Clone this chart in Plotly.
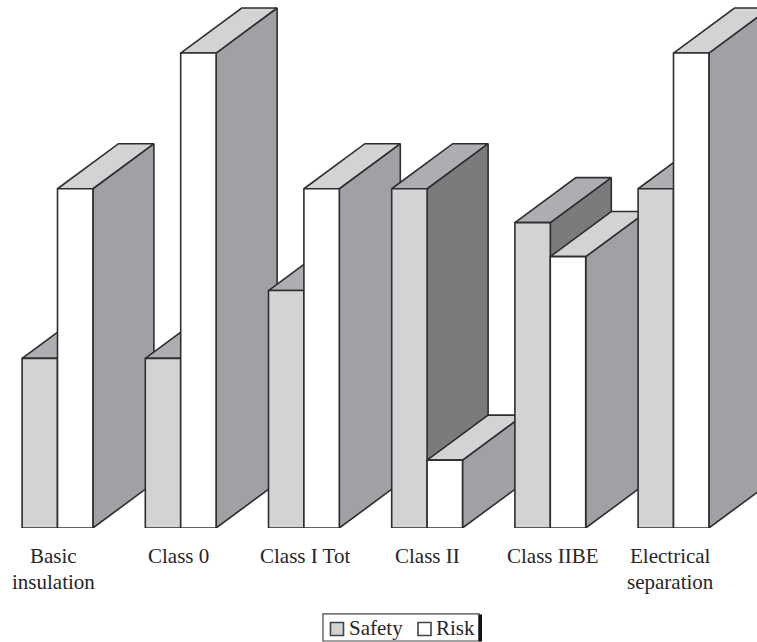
import plotly.graph_objects as go

categories = ["Basic<br>insulation", "Class 0", "Class I Tot", "Class II", "Class IIBE", "Electrical<br>separation"]
safety = [2.5, 2.5, 3.5, 5, 4.5, 5]
risk = [5, 7, 5, 1, 4, 7]
series_names = ["Safety", "Risk"]

W, H = 757, 642
BASE_PX = 527.6
PX_PER_X = 123.2
PX_PER_Y = 67.8
X0_PX = 57.5
BAR = 35.4 / PX_PER_X
DX = 61 / PX_PER_X
DY = 45 / PX_PER_Y
LINE = "#2e2e2e"
SAFETY_COL = ("#d2d3d5", "#adaeb1", "#7a7b7d")
RISK_COL = ("#ffffff", "#d2d3d5", "#a0a1a4")
TEXT = "#262626"
LABEL_SHIFT_PX = [-4, -2.5, 1, 0, 2.5, -3.5]
LABEL_LINE_Y_PX = [556, 582]


def poly(xs, ys, color):
    return go.Scatter(
        x=xs + xs[:1], y=ys + ys[:1], mode="lines", fill="toself", fillcolor=color,
        line=dict(color=LINE, width=1.6), showlegend=False, hoverinfo="skip",
    )


fig = go.Figure()


def add_bar(left, v, cols):
    r = left + BAR
    fig.add_trace(poly([r, r + DX, r + DX, r], [0, DY, v + DY, v], cols[2]))
    fig.add_trace(poly([left, r, r + DX, left + DX], [v, v, v + DY, v + DY], cols[1]))
    fig.add_trace(poly([left, r, r, left], [0, 0, v, v], cols[0]))


for i in range(len(categories)):
    add_bar(i - BAR, safety[i], SAFETY_COL)
    add_bar(float(i), risk[i], RISK_COL)


def px(x):
    return x / W


def py(y):
    return 1 - y / BASE_PX


def rect(x0, y0, x1, y1, fill, lw=1.2, col="#444444"):
    fig.add_shape(type="rect", xref="paper", yref="paper", x0=px(x0), x1=px(x1), y0=py(y0), y1=py(y1),
                  fillcolor=fill, line=dict(color=col, width=lw))


# category labels
for i, label in enumerate(categories):
    for line, y_px in zip(label.split("<br>"), LABEL_LINE_Y_PX):
        fig.add_annotation(text=line, x=i, xref="x", xshift=LABEL_SHIFT_PX[i], y=py(y_px), yref="paper",
                           xanchor="center", yanchor="middle", showarrow=False, font=dict(size=21))

# legend box
rect(323, 613.5, 479, 640.5, "white")
fig.add_shape(type="rect", xref="paper", yref="paper", x0=px(478.5), x1=px(482), y0=py(614), y1=py(641),
              fillcolor="#111111", line=dict(width=0))
rect(330.5, 622, 343.5, 635, SAFETY_COL[0], 1.6)
rect(418, 622, 431, 635, RISK_COL[0], 1.6)
for name, lx in zip(series_names, [349, 436]):
    fig.add_annotation(text=name, xref="paper", yref="paper", x=px(lx), y=py(628), xanchor="left",
                       yanchor="middle", showarrow=False, font=dict(size=21), xshift=-2)

fig.update_layout(
    width=W, height=H, autosize=False,
    margin=dict(l=0, r=0, t=0, b=H - BASE_PX),
    paper_bgcolor="white", plot_bgcolor="white",
    font=dict(family="Liberation Serif", size=21, color=TEXT),
    showlegend=False,
    xaxis=dict(
        range=[-X0_PX / PX_PER_X, (W - X0_PX) / PX_PER_X],
        showgrid=False, zeroline=False, showline=False, showticklabels=False, ticks="",
    ),
    yaxis=dict(range=[0, BASE_PX / PX_PER_Y], visible=False),
)
fig.write_html("out.html", config={"displayModeBar": False},
               post_script="document.body.style.margin='0';document.body.style.overflow='hidden';")
